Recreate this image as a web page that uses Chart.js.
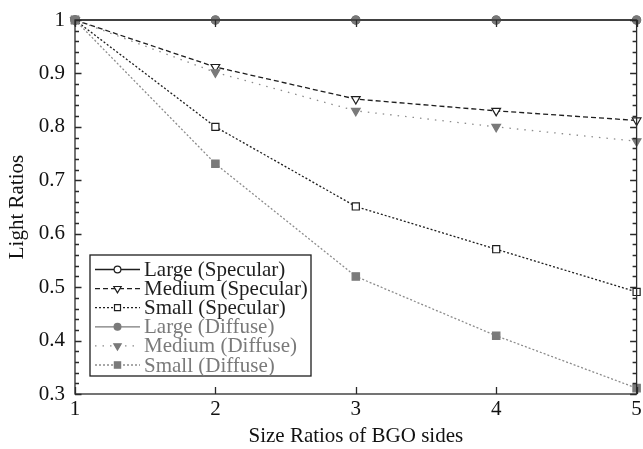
<!DOCTYPE html>
<html>
<head>
<meta charset="utf-8">
<script src="https://cdn.jsdelivr.net/npm/chart.js@4.4.0/dist/chart.umd.min.js"></script>
<style>
html,body{margin:0;padding:0;background:#fff;}
#wrap{width:643px;height:449px;position:relative;}
</style>
</head>
<body>
<div id="wrap"><canvas id="c" width="643" height="449"></canvas></div>
<script>
// ---- data ----
const categories = [1, 2, 3, 4, 5];
const seriesNames = ['Large (Specular)', 'Medium (Specular)', 'Small (Specular)',
                     'Large (Diffuse)', 'Medium (Diffuse)', 'Small (Diffuse)'];
const largeSpecular  = [1, 1, 1, 1, 1];
const mediumSpecular = [1, 0.912, 0.852, 0.830, 0.812];
const smallSpecular  = [1, 0.800, 0.651, 0.571, 0.491];
const largeDiffuse   = [1, 1, 1, 1, 1];
const mediumDiffuse  = [1, 0.902, 0.830, 0.800, 0.773];
const smallDiffuse   = [1, 0.731, 0.520, 0.409, 0.311];
const xTicks = [1, 2, 3, 4, 5];
const xTickLabels = ['1', '2', '3', '4', '5'];
const yTicks = [0.3, 0.4, 0.5, 0.6, 0.7, 0.8, 0.9, 1];
const yTickLabels = ['0.3', '0.4', '0.5', '0.6', '0.7', '0.8', '0.9', '1'];
const xTitle = 'Size Ratios of BGO sides';
const yTitle = 'Light Ratios';

const FONT = 'Liberation Serif, Times New Roman, serif';
const BLACK = '#1e1e1e';
const GRAY = '#7a7a7a';
const GRAYLINE = '#8c8c8c';

function pts(arr) { return categories.map((x, i) => ({x: x, y: arr[i]})); }

const styles = [
  {data: largeSpecular,  color: BLACK, line: BLACK, dash: [],       shape: 'circle',   r: 4,   fill: '#fff', order: 6},
  {data: mediumSpecular, color: BLACK, line: BLACK, dash: [5, 3],   shape: 'triangle', r: 5,   fill: '#fff', order: 5, rot: 180},
  {data: smallSpecular,  color: BLACK, line: BLACK, dash: [2, 2],   shape: 'rect',     r: 5,   fill: '#fff', order: 4},
  {data: largeDiffuse,   color: GRAY,  line: GRAY,  dash: [],       shape: 'circle',   r: 4,   fill: GRAY,   order: 3},
  {data: mediumDiffuse,  color: GRAY,  line: GRAYLINE, dash: [1.5, 6], shape: 'triangle', r: 5, fill: GRAY, order: 2, rot: 180},
  {data: smallDiffuse,   color: GRAY,  line: GRAYLINE, dash: [2, 2], shape: 'rect',    r: 5.2, fill: GRAY,   order: 1}
];

const datasets = styles.map((s, i) => ({
  label: seriesNames[i],
  data: pts(s.data),
  borderColor: s.line,
  borderWidth: 1.3,
  borderDash: s.dash,
  pointStyle: s.shape,
  pointRadius: s.r,
  pointRotation: s.rot || 0,
  pointBackgroundColor: s.fill,
  pointBorderColor: s.color,
  pointBorderWidth: 1.2,
  pointHoverRadius: s.r,
  tension: 0,
  fill: false,
  clip: false,
  order: s.order,
  legendTextColor: s.color
}));

// axes box + inward ticks (major and minor)
const axisBoxPlugin = {
  id: 'axisBox',
  afterDatasetsDraw(chart) {
    const {ctx, chartArea: a, scales: {x, y}} = chart;
    ctx.save();
    ctx.strokeStyle = '#2a2a2a';
    ctx.lineWidth = 1.3;
    ctx.setLineDash([]);
    ctx.strokeRect(a.left, a.top, a.right - a.left, a.bottom - a.top);
    ctx.beginPath();
    // y minor ticks every 0.02
    for (let k = 0; k <= 35; k++) {
      const v = 0.3 + k * 0.02;
      const py = Math.round(y.getPixelForValue(v)) + 0.5;
      const major = (k % 5 === 0);
      const len = major ? 6.5 : 4;
      ctx.moveTo(a.left, py); ctx.lineTo(a.left + len, py);
      ctx.moveTo(a.right, py); ctx.lineTo(a.right - len, py);
    }
    xTicks.forEach(v => {
      const px = Math.round(x.getPixelForValue(v)) + 0.5;
      ctx.moveTo(px, a.bottom); ctx.lineTo(px, a.bottom - 7);
      ctx.moveTo(px, a.top); ctx.lineTo(px, a.top + 7);
    });
    ctx.stroke();
    ctx.restore();
  }
};

// legend drawn inside the plot area, lower left
const boxLegendPlugin = {
  id: 'boxLegend',
  afterDraw(chart) {
    const {ctx} = chart;
    const bx = 90, by = 255, bw = 221, bh = 121;
    const rowY0 = 269.5, rowH = 19.1;
    ctx.save();
    ctx.fillStyle = '#fff';
    ctx.fillRect(bx, by, bw, bh);
    ctx.strokeStyle = '#1e1e1e';
    ctx.lineWidth = 1.3;
    ctx.strokeRect(bx, by, bw, bh);
    chart.data.datasets.forEach((ds, i) => {
      const yy = rowY0 + i * rowH;
      ctx.beginPath();
      ctx.strokeStyle = ds.borderColor;
      ctx.lineWidth = ds.borderWidth;
      ctx.setLineDash(ds.borderDash);
      ctx.moveTo(95, yy); ctx.lineTo(140, yy);
      ctx.stroke();
      ctx.setLineDash([]);
      ctx.fillStyle = ds.pointBackgroundColor;
      ctx.strokeStyle = ds.pointBorderColor;
      ctx.lineWidth = ds.pointBorderWidth;
      Chart.helpers.drawPoint(ctx, {pointStyle: ds.pointStyle, radius: ds.pointRadius * 0.85, rotation: ds.pointRotation, borderWidth: ds.pointBorderWidth}, 117.5, yy);
      ctx.fillStyle = ds.legendTextColor;
      ctx.font = '21px ' + FONT;
      ctx.textBaseline = 'middle';
      ctx.textAlign = 'left';
      ctx.fillText(ds.label, 144, yy + 1);
    });
    ctx.restore();
  }
};

new Chart(document.getElementById('c'), {
  type: 'line',
  data: {datasets: datasets},
  plugins: [axisBoxPlugin, boxLegendPlugin],
  options: {
    responsive: false,
    animation: false,
    events: [],
    layout: {padding: {top: 20, right: 4, left: 0, bottom: 0}},
    plugins: {legend: {display: false}, tooltip: {enabled: false}},
    scales: {
      x: {
        type: 'linear', min: 1, max: 5,
        afterBuildTicks: s => { s.ticks = xTicks.map(v => ({value: v})); },
        afterFit: s => { s.height = 55; s.paddingLeft = 0; s.paddingRight = 0; },
        ticks: {
          callback: (v, i) => xTickLabels[i],
          font: {family: FONT, size: 21}, color: '#111', padding: 3, maxRotation: 0, autoSkip: false
        },
        grid: {display: false, drawTicks: false},
        border: {display: false},
        title: {display: true, text: xTitle, font: {family: FONT, size: 21, lineHeight: 1.2}, color: '#111', padding: {top: 0, bottom: 0}}
      },
      y: {
        type: 'linear', min: 0.3, max: 1,
        afterBuildTicks: s => { s.ticks = yTicks.map(v => ({value: v})); },
        afterFit: s => { s.width = 75; s.paddingTop = 0; s.paddingBottom = 0; },
        ticks: {
          callback: (v, i) => yTickLabels[i],
          font: {family: FONT, size: 21}, color: '#111', padding: 10, autoSkip: false
        },
        grid: {display: false, drawTicks: false},
        border: {display: false},
        title: {display: true, text: yTitle, font: {family: FONT, size: 21, lineHeight: 1.2}, color: '#111', padding: {top: 5, bottom: 0}}
      }
    }
  }
});
</script>
</body>
</html>
